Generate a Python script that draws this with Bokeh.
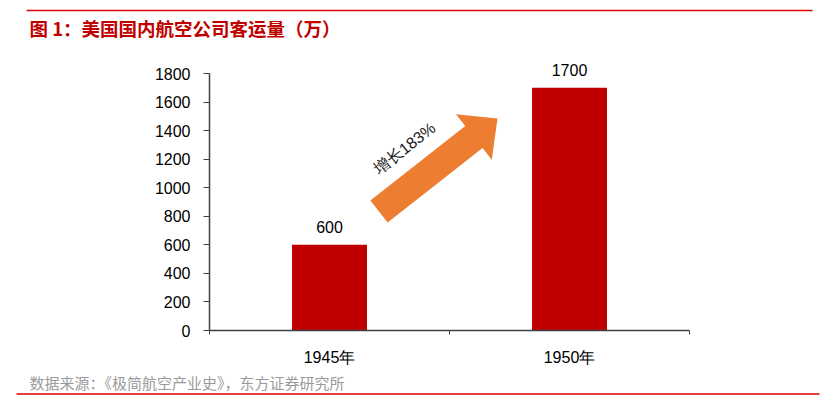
import numpy as np
from bokeh.plotting import figure
from bokeh.models import (ColumnDataSource, FixedTicker, LabelSet, Label, Range1d,
                          LinearAxis)
from bokeh.core.properties import value
from bokeh.embed import file_html
from bokeh.resources import INLINE

# ---- data ----
categories = ["1945年", "1950年"]
values = [600, 1700]
y_ticks = [0, 200, 400, 600, 800, 1000, 1200, 1400, 1600, 1800]
title_text = "图 1：美国国内航空公司客运量（万）"
source_text = "数据来源：《极简航空产业史》，东方证券研究所"
growth_text = "增长183%"

# ---- layout constants (pixels) ----
W, H = 827, 395
X0_PX, CAT_PX = 209, 240          # pixel of x=0, pixels per category
Y0_PX, YMAX, AXIS_PX = 330, 1800, 257
ppu = AXIS_PX / YMAX
ncat = len(categories)
xs = [i + 0.5 for i in range(ncat)]

FONT = "Liberation Sans"
CJK = "Noto Sans CJK SC"
RED = "#C00000"
RULE = "#DC0000"
AXC = "#404040"

p = figure(width=W, height=H, output_backend="svg", toolbar_location=None,
           x_range=Range1d(-X0_PX / CAT_PX, (W - X0_PX) / CAT_PX),
           y_range=Range1d(-(H - Y0_PX) / ppu, Y0_PX / ppu),
           x_axis_location=None, y_axis_location=None, min_border=0)
p.extra_x_ranges = {"px": Range1d(0, W)}
p.extra_y_ranges = {"px": Range1d(H, 0)}
p.outline_line_color = None
p.grid.visible = False

# bars + value labels
src = ColumnDataSource(dict(x=xs, top=values, lbl=[str(v) for v in values]))
p.vbar(x="x", top="top", width=0.3125, source=src, fill_color=RED, line_color=None)
p.add_layout(LabelSet(x="x", y="top", text="lbl", source=src, y_offset=18,
                      text_align="center", text_baseline="middle",
                      text_font=value(FONT), text_font_size=value("16px"),
                      text_color=value("black")))

# axes
ax = LinearAxis(fixed_location=0, bounds=(0, ncat))
ax.ticker = FixedTicker(ticks=xs, minor_ticks=list(range(ncat + 1)))
ax.major_label_overrides = {x: c for x, c in zip(xs, categories)}
ax.major_tick_out = 0
ax.major_tick_in = 0
ax.minor_tick_out = 4
ax.minor_tick_in = 0
ax.minor_tick_line_color = AXC
ax.axis_line_color = AXC
ax.axis_line_width = 1.5
ax.major_label_standoff = 14
ax.major_label_text_font = FONT
ax.major_label_text_font_size = "16px"
ax.major_label_text_color = "black"
p.add_layout(ax, "below")

ay = LinearAxis(fixed_location=0, bounds=(0, YMAX))
ay.ticker = FixedTicker(ticks=y_ticks, minor_ticks=[])
ay.major_tick_out = 6
ay.major_tick_in = 0
ay.minor_tick_out = 0
ay.minor_tick_in = 0
ay.major_tick_line_color = AXC
ay.axis_line_color = AXC
ay.axis_line_width = 1.5
ay.major_label_standoff = 13
ay.major_label_text_font = FONT
ay.major_label_text_font_size = "16px"
ay.major_label_text_color = "black"
p.add_layout(ay, "left")

# growth arrow (pixel geometry, y downwards)
tail = np.array([378.5, 211.0])
tip = np.array([497.0, 118.0])
shaft_w, head_w, head_len = 28.0, 58.0, 30.0
u = (tip - tail) / np.linalg.norm(tip - tail)
n = np.array([-u[1], u[0]])
base = tip - u * head_len
pts = [tail + n * shaft_w / 2, base + n * shaft_w / 2, base + n * head_w / 2, tip,
       base - n * head_w / 2, base - n * shaft_w / 2, tail - n * shaft_w / 2]
p.patch([q[0] for q in pts], [q[1] for q in pts], fill_color="#ED7D31", line_color=None,
        x_range_name="px", y_range_name="px")
ang = np.arctan2(tail[1] - tip[1], tip[0] - tail[0])
p.add_layout(Label(x=404, y=148, x_range_name="px", y_range_name="px", text=growth_text,
                   angle=ang, text_align="center", text_baseline="middle",
                   text_font=FONT, text_font_size="16px", text_color="#1a1a1a"))

# header / footer
p.segment(x0=[26], y0=[10], x1=[812], y1=[10], line_color=RULE, line_width=1.5,
          x_range_name="px", y_range_name="px")
p.text(x=[29], y=[27], text=[title_text], text_align="left", text_baseline="middle",
       text_font=value(CJK), text_font_style="bold", text_font_size="18.5px",
       text_color=RED, x_range_name="px", y_range_name="px")
p.text(x=[29], y=[382], text=[source_text], text_align="left", text_baseline="middle",
       text_font=value(CJK), text_font_size="15px", text_color="#9a9a9a",
       x_range_name="px", y_range_name="px")
p.segment(x0=[16], y0=[393.5], x1=[819], y1=[393.5], line_color=RULE, line_width=1.5,
          x_range_name="px", y_range_name="px")

open("out.html", "w").write(file_html(p, INLINE))
